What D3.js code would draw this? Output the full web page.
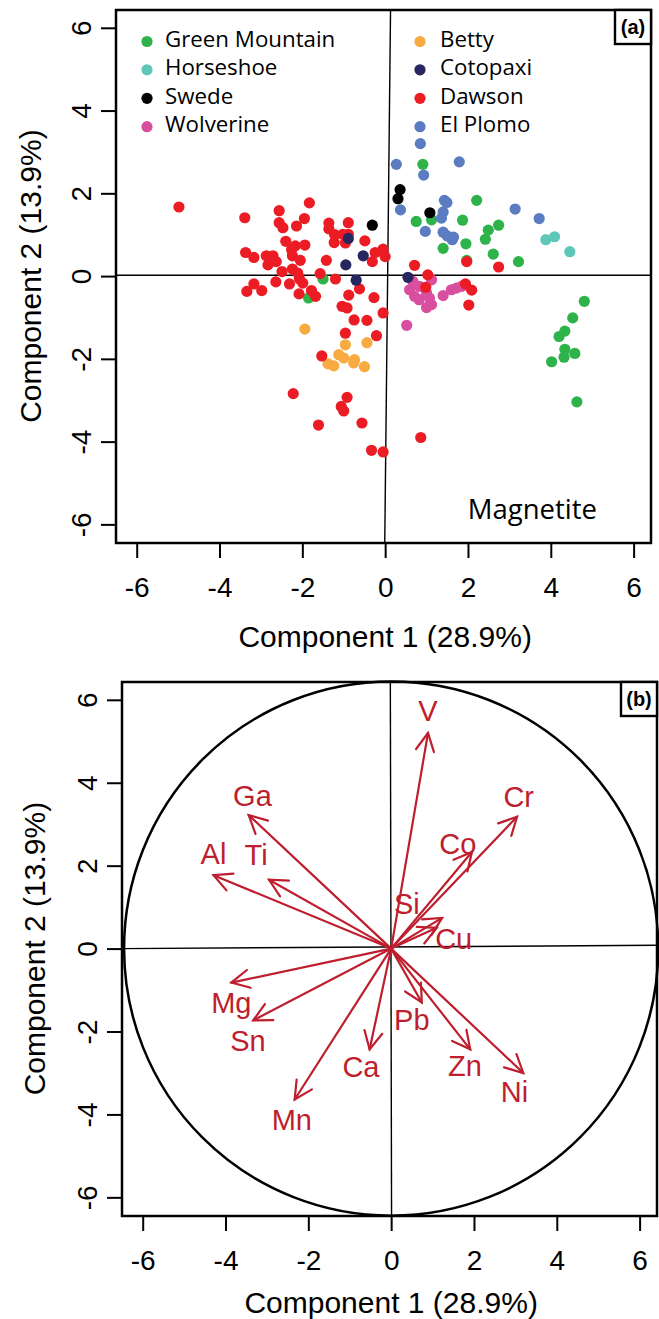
<!DOCTYPE html>
<html>
<head>
<meta charset="utf-8">
<script src="https://cdn.jsdelivr.net/npm/d3@7"></script>
<style>
  body { margin: 0; background: #fff; }
  svg { display: block; }
</style>
</head>
<body>
<div id="vis-holder"></div>
<script>
// ---------------- data ----------------
// PCA scores, panel (a), one array per deposit: [component 1, component 2]
const greenMountain = [[-1.50,-0.07],[-1.85,-0.53],[0.91,2.70],[2.21,1.83],[0.75,1.32],[1.12,1.36],[1.87,1.35],
  [2.49,1.11],[2.74,1.23],[2.42,0.89],[1.95,0.78],[1.40,0.67],[2.61,0.53],[3.22,0.35],[1.97,0.38],
  [4.81,-0.61],[4.53,-1.01],[4.34,-1.33],[4.20,-1.46],[4.34,-1.77],[4.58,-1.87],[4.32,-1.96],[4.02,-2.07],[4.63,-3.04]];
const horseshoe = [[3.88,0.88],[4.09,0.95],[4.46,0.59]];
const swede = [[-0.31,1.23],[0.36,2.09],[0.31,1.87],[1.08,1.53]];
const wolverine = [[0.67,-0.13],[0.59,-0.33],[0.83,-0.25],[0.71,-0.49],[0.82,-0.57],[1.00,-0.41],[1.07,-0.53],
  [1.12,-0.09],[1.12,-0.69],[1.00,-0.76],[1.40,-0.47],[1.60,-0.33],[1.72,-0.29],[1.84,-0.25],[1.92,-0.21],[0.52,-1.19]];
const betty = [[-1.94,-1.28],[-0.96,-1.66],[-0.44,-1.61],[-1.12,-1.90],[-1.00,-1.98],[-1.38,-2.12],[-1.24,-2.17],
  [-0.74,-2.02],[-0.76,-2.10],[-0.50,-2.19]];
const cotopaxi = [[-0.89,0.91],[-0.53,0.49],[-0.95,0.27],[-0.70,-0.10],[0.55,-0.03]];
const dawson = [[-4.98,1.67],[-3.39,1.41],[-2.56,1.58],[-1.83,1.77],[-2.56,1.29],[-2.47,1.17],[-1.95,1.39],[-2.14,1.21],
  [-1.36,1.28],[-0.89,1.29],[-1.36,1.14],[-1.22,1.00],[-1.02,1.01],[-0.89,1.01],[-0.49,0.85],[-1.23,0.81],[-0.96,0.80],
  [-2.40,0.84],[-2.17,0.73],[-1.94,0.75],[-2.26,0.64],[-3.37,0.57],[-3.17,0.45],[-2.87,0.49],[-2.71,0.49],[-2.63,0.35],
  [-2.83,0.27],[-2.24,0.49],[-2.05,0.38],[-1.42,0.38],[-0.31,0.35],[-0.24,0.57],[-0.05,0.65],[0.00,0.47],[-2.49,0.11],
  [-2.24,0.17],[-2.11,0.07],[-1.57,0.06],[-1.20,-0.07],[-3.17,-0.19],[-3.34,-0.37],[-2.98,-0.35],[-2.64,-0.14],[-2.31,-0.19],
  [-2.07,-0.07],[-1.99,-0.17],[-2.08,-0.43],[-1.78,-0.35],[-1.68,-0.49],[-0.88,-0.46],[-0.62,-0.31],[-0.27,-0.52],
  [-1.04,-0.73],[-0.92,-0.77],[-0.05,-0.89],[-0.75,-1.06],[-0.44,-1.07],[-0.96,-1.38],[-0.21,-1.44],[-1.53,-1.93],
  [-2.22,-2.84],[-0.92,-2.93],[-1.06,-3.15],[-1.00,-3.26],[-1.61,-3.60],[-0.56,-3.55],[-0.33,-4.21],[-0.05,-4.25],
  [0.71,0.26],[1.03,0.03],[0.98,-0.27],[1.94,-0.19],[2.09,-0.34],[2.02,-0.70],[1.97,0.35],[2.74,0.22],[0.86,-3.90]];
const elPlomo = [[0.85,3.20],[0.27,2.70],[0.93,2.44],[1.79,2.76],[0.37,1.60],[1.43,1.83],[1.49,1.78],[1.40,1.55],
  [1.36,1.40],[3.14,1.62],[3.72,1.39],[0.97,1.08],[1.40,1.06],[1.50,0.97],[1.65,0.94],[1.62,0.88]];

const groupNames  = ["Green Mountain", "Horseshoe", "Swede", "Wolverine", "Betty", "Cotopaxi", "Dawson", "El Plomo"];
const groupColors = ["#2db34a", "#5fc7b9", "#000000", "#d94f9f", "#f8ab40", "#27265f", "#ec1c24", "#5b7cc1"];
const groupPoints = [greenMountain, horseshoe, swede, wolverine, betty, cotopaxi, dawson, elPlomo];
// order the groups are painted in (later = on top)
const drawOrder = ["Green Mountain", "Horseshoe", "Betty", "Wolverine", "Dawson", "El Plomo", "Cotopaxi", "Swede"];

// loadings, panel (b)
const elements = ["V", "Cr", "Co", "Ga", "Al", "Ti", "Si", "Cu", "Mg", "Sn", "Mn", "Ca", "Pb", "Zn", "Ni"];
const loadX = [0.89, 3.04, 1.95, -3.44, -4.29, -2.95, 1.23, 1.10, -3.86, -3.33, -2.33, -0.52, 0.74, 1.91, 3.19];
const loadY = [5.20, 3.18, 2.33, 3.22, 1.77, 1.66, 0.74, 0.50, -0.82, -1.73, -3.64, -2.43, -1.30, -2.43, -3.00];
const labelX = [0.89, 3.08, 1.61, -3.35, -4.29, -3.26, 0.38, 1.51, -3.86, -3.46, -2.40, -0.73, 0.50, 1.78, 2.98];
const labelY = [5.74, 3.66, 2.54, 3.69, 2.28, 2.26, 1.08, 0.23, -1.30, -2.23, -4.12, -2.85, -1.70, -2.83, -3.44];

const tickVals = [-6, -4, -2, 0, 2, 4, 6];
const xDomain = [-6.5, 6.42];
const yDomain = [-6.45, 6.43];
const circleRadius = 6.45;

// guide lines through the origin (slightly skewed as in the figure)
const guidesA = [[[0.13, 6.43], [-0.01, -6.45]], [[-6.5, 0.02], [6.42, 0.02]]];
const guidesB = [[[-0.02, 6.43], [0.01, -6.45]], [[-6.5, 0.0], [6.42, 0.08]]];

// ---------------- layout ----------------
const width = 659, height = 1319;
const boxA = { left: 116, top: 10, w: 535, h: 533 };
const boxB = { left: 122, top: 682, w: 535, h: 534 };
const axisFont = "'Liberation Sans', Arial, Helvetica, sans-serif";
const legendFont = "'Open Sans', 'Noto Sans', sans-serif";
const arrowColor = "#be1e2d";

const svg = d3.select("#vis-holder")
              .append("svg")
              .attr("width", width)
              .attr("height", height);

function makePanel(box, titleBaseX, titleBaseY) {
  const x = d3.scaleLinear().domain(xDomain).range([box.left, box.left + box.w]);
  const y = d3.scaleLinear().domain(yDomain).range([box.top + box.h, box.top]);

  // x axis
  const gx = svg.append("g")
      .attr("transform", `translate(0,${box.top + box.h})`)
      .call(d3.axisBottom(x).tickValues(tickVals).tickSize(15).tickFormat(d => String(d)));
  gx.select(".domain").remove();
  gx.selectAll(".tick line").attr("stroke", "#000").attr("stroke-width", 2);
  gx.selectAll(".tick text")
      .attr("y", 54).attr("dy", null)
      .attr("font-family", axisFont).attr("font-size", 28).attr("fill", "#000");

  // y axis, labels parallel to the axis
  const gy = svg.append("g")
      .attr("transform", `translate(${box.left},0)`)
      .call(d3.axisLeft(y).tickValues(tickVals).tickSize(15).tickFormat(d => String(d)));
  gy.select(".domain").remove();
  gy.selectAll(".tick line").attr("stroke", "#000").attr("stroke-width", 2);
  gy.selectAll(".tick text")
      .attr("x", 0).attr("dy", null)
      .attr("text-anchor", "middle")
      .attr("transform", "translate(-25,0) rotate(-90)")
      .attr("font-family", axisFont).attr("font-size", 28).attr("fill", "#000");

  // axis titles
  svg.append("text")
      .attr("x", x(0)).attr("y", titleBaseY)
      .attr("text-anchor", "middle")
      .attr("font-family", axisFont).attr("font-size", 30)
      .text("Component 1 (28.9%)");
  svg.append("text")
      .attr("transform", `translate(${titleBaseX},${y(0)}) rotate(-90)`)
      .attr("text-anchor", "middle")
      .attr("font-family", axisFont).attr("font-size", 30)
      .text("Component 2 (13.9%)");

  return { x, y };
}

function drawGuides(sc, guides) {
  svg.append("g").selectAll("line")
    .data(guides)
    .enter()
    .append("line")
      .attr("x1", d => sc.x(d[0][0])).attr("y1", d => sc.y(d[0][1]))
      .attr("x2", d => sc.x(d[1][0])).attr("y2", d => sc.y(d[1][1]))
      .attr("stroke", "#000").attr("stroke-width", 1.4);
}

function drawBox(box) {
  svg.append("rect")
      .attr("x", box.left).attr("y", box.top)
      .attr("width", box.w).attr("height", box.h)
      .attr("fill", "none").attr("stroke", "#000").attr("stroke-width", 2.5);
}

function panelTag(x0, y0, w, h, label) {
  svg.append("rect")
      .attr("x", x0).attr("y", y0).attr("width", w).attr("height", h)
      .attr("fill", "#fff").attr("stroke", "#000").attr("stroke-width", 2.4);
  svg.append("text")
      .attr("x", x0 + w / 2).attr("y", y0 + h / 2 + 7)
      .attr("text-anchor", "middle")
      .attr("font-family", axisFont).attr("font-weight", "bold").attr("font-size", 20)
      .text(label);
}

// ---------------- panel (a): scores ----------------
{
  const sc = makePanel(boxA, 41, 647);
  drawGuides(sc, guidesA);

  const color = d3.scaleOrdinal().domain(groupNames).range(groupColors);

  drawOrder.forEach(name => {
    const pts = groupPoints[groupNames.indexOf(name)];
    svg.append("g").selectAll("circle")
      .data(pts)
      .enter()
      .append("circle")
        .attr("cx", d => sc.x(d[0]))
        .attr("cy", d => sc.y(d[1]))
        .attr("r", 5.6)
        .attr("fill", color(name));
  });

  // legend in two columns either side of the vertical guide
  const legendRows = [41.5, 69.8, 98.3, 126.7];
  const legendCols = [{ dot: 147, text: 165 }, { dot: 420, text: 440 }];
  const legend = svg.append("g").selectAll("g")
    .data(groupNames)
    .enter()
    .append("g")
      .attr("transform", (d, i) => `translate(0,${legendRows[i % 4]})`);
  legend.append("circle")
      .attr("cx", (d, i) => legendCols[Math.floor(i / 4)].dot)
      .attr("cy", 0).attr("r", 5.6)
      .attr("fill", d => color(d));
  legend.append("text")
      .attr("x", (d, i) => legendCols[Math.floor(i / 4)].text)
      .attr("y", 5.5)
      .attr("font-family", legendFont).attr("font-size", 22.3)
      .text(d => d);

  svg.append("text")
      .attr("x", boxA.left + boxA.w - 54).attr("y", 519)
      .attr("text-anchor", "end")
      .attr("font-family", legendFont).attr("font-size", 27.5)
      .text("Magnetite");

  drawBox(boxA);
  panelTag(615, 10, 36, 34, "(a)");
}

// ---------------- panel (b): loadings ----------------
{
  const sc = makePanel(boxB, 45, 1313);
  drawGuides(sc, guidesB);

  const pxPerUnit = sc.x(1) - sc.x(0);
  svg.append("circle")
      .attr("cx", sc.x(0)).attr("cy", sc.y(0))
      .attr("r", circleRadius * pxPerUnit)
      .attr("fill", "none").attr("stroke", "#000").attr("stroke-width", 2.5);

  const loads = elements.map((e, i) => ({ e, x: loadX[i], y: loadY[i], lx: labelX[i], ly: labelY[i] }));
  const head = 20, spread = 27 * Math.PI / 180;

  const arrows = svg.append("g")
      .attr("stroke", arrowColor).attr("stroke-width", 2.2)
      .attr("fill", "none").attr("stroke-linecap", "round");

  arrows.selectAll("line")
    .data(loads)
    .enter()
    .append("line")
      .attr("x1", sc.x(0)).attr("y1", sc.y(0))
      .attr("x2", d => sc.x(d.x)).attr("y2", d => sc.y(d.y));

  arrows.selectAll("path")
    .data(loads)
    .enter()
    .append("path")
      .attr("d", d => {
        const tx = sc.x(d.x), ty = sc.y(d.y);
        const a = Math.atan2(ty - sc.y(0), tx - sc.x(0));
        const p1 = [tx - head * Math.cos(a - spread), ty - head * Math.sin(a - spread)];
        const p2 = [tx - head * Math.cos(a + spread), ty - head * Math.sin(a + spread)];
        return `M${p1[0]},${p1[1]}L${tx},${ty}L${p2[0]},${p2[1]}`;
      });

  svg.append("g").selectAll("text")
    .data(loads)
    .enter()
    .append("text")
      .attr("x", d => sc.x(d.lx))
      .attr("y", d => sc.y(d.ly))
      .attr("dy", "0.36em")
      .attr("text-anchor", "middle")
      .attr("font-family", axisFont).attr("font-size", 29)
      .attr("fill", arrowColor)
      .text(d => d.e);

  drawBox(boxB);
  panelTag(621, 682, 36, 34, "(b)");
}
</script>
</body>
</html>
